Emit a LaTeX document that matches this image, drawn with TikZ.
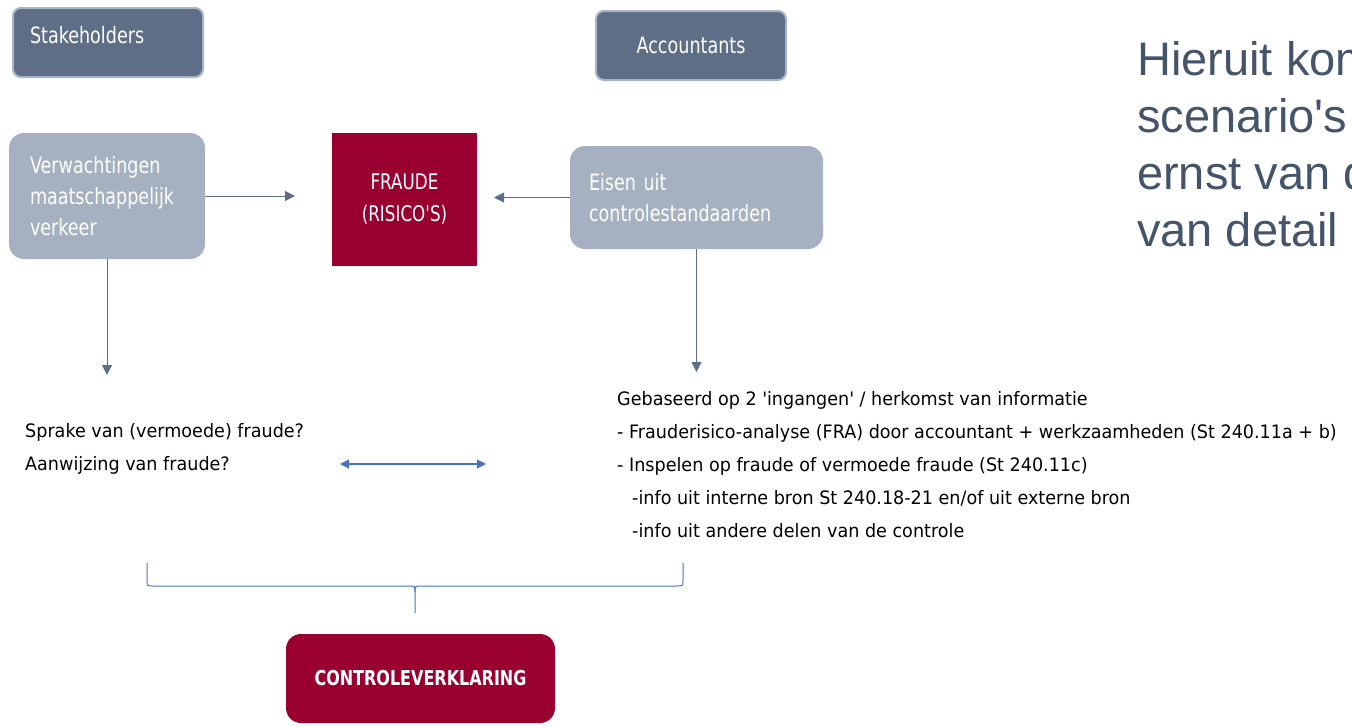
\documentclass[tikz,border=0pt]{standalone}
\usepackage{fontspec}
\newfontfamily\headf{Liberation Sans}
\newfontfamily\tah[FakeStretch=0.78]{DejaVu Sans}
\newfontfamily\tahp[FakeStretch=0.95]{DejaVu Sans}
\usetikzlibrary{arrows.meta}
\definecolor{slate}{HTML}{5E6E87}
\definecolor{slatebd}{HTML}{A7B4C6}
\definecolor{lslate}{HTML}{A5B1C1}
\definecolor{crim}{HTML}{990030}
\definecolor{bl}{HTML}{4472C4}
\definecolor{head}{HTML}{44546A}
\tikzset{
  boxfont/.style={font=\tah\fontsize{22.5}{31}\selectfont},
  darkbox/.style={rectangle, rounded corners=8pt, fill=slate, draw=slatebd, line width=2pt, text=white, boxfont},
  lightbox/.style={rectangle, rounded corners=15pt, fill=lslate, text=white, boxfont},
  redbox/.style={rectangle, fill=crim, text=white, boxfont},
  plain/.style={font=\tahp\fontsize{18.5}{33}\selectfont, align=left, inner sep=0pt, text=black},
  garrow/.style={draw=slate, line width=1pt, -{Triangle[length=10pt,width=10pt]}},
  barrow/.style={draw=bl, line width=1.2pt, {Triangle[length=9pt,width=9pt]}-{Triangle[length=9pt,width=9pt]}},
  bracestyle/.style={draw=bl, line width=1pt}
}
\begin{document}
\begin{tikzpicture}[x=1pt,y=-1pt]
\useasboundingbox (0,0) rectangle (1352,726);
\clip (0,0) rectangle (1352,726);

\node[darkbox, minimum width=190, minimum height=69, inner xsep=17pt, text width=156pt, align=left, text height=15pt, text depth=13pt] (stake) at (108,42.5) {Stakeholders};
\node[darkbox, minimum width=190, minimum height=69, align=center] (acc) at (691,45.5) {Accountants};

\node[lightbox, minimum width=196, minimum height=126, inner xsep=21pt, text width=154pt, align=left] (verw) at (107,196) {Verwachtingen\\maatschappelijk\\verkeer};
\node[redbox, minimum width=145, minimum height=133, align=center, font=\tah\fontsize{21.5}{32}\selectfont] (fraude) at (404.5,199.5) {FRAUDE\\(RISICO'S)};
\node[lightbox, minimum width=253, minimum height=103, inner xsep=19pt, text width=215pt, align=left] (eisen) at (696.5,197.5) {Eisen uit\\controlestandaarden};

\coordinate (a1) at (295,196);
\coordinate (a2) at (494,197.5);
\coordinate (a3) at (107,375);
\coordinate (a4) at (696.5,372);
\draw[garrow] (verw.east) -- (a1);
\draw[garrow] (eisen.west) -- (a2);
\draw[garrow] (verw.south) -- (a3);
\draw[garrow] (eisen.south) -- (a4);

\node[plain, anchor=west] (sprake) at (25,449) {Sprake van (vermoede) fraude?\\Aanwijzing van fraude?};
\node[plain, anchor=west] (info) at (617,465) {Gebaseerd op 2 'ingangen' / herkomst van informatie\\- Frauderisico-analyse (FRA) door accountant + werkzaamheden (St 240.11a + b)\\- Inspelen op fraude of vermoede fraude (St 240.11c)\\\hspace*{15pt}-info uit interne bron St 240.18-21 en/of uit externe bron\\\hspace*{15pt}-info uit andere delen van de controle};

\coordinate (d1) at (340,464);
\coordinate (d2) at (486,464);
\draw[barrow] (d1) -- (d2);

\draw[bracestyle] (147,563) -- (147,580) .. controls (147,586) .. (153,586) -- (409,586) .. controls (415,586) .. (415,592) -- (415,613);
\draw[bracestyle] (415,592) .. controls (415,586) .. (421,586) -- (677,586) .. controls (683,586) .. (683,580) -- (683,563);

\node[rectangle, rounded corners=15pt, fill=crim, text=white, minimum width=269, minimum height=89, font=\tah\bfseries\fontsize{20.5}{24}\selectfont] (ctrl) at (420.5,678.5) {CONTROLEVERKLARING};

\node[anchor=north west, inner sep=0pt, align=left, text=head, font=\headf\fontsize{47}{57}\selectfont] (hier) at (1137,41) {Hieruit komen\\scenario's\\ernst van de\\van detail};
\end{tikzpicture}
\end{document}
